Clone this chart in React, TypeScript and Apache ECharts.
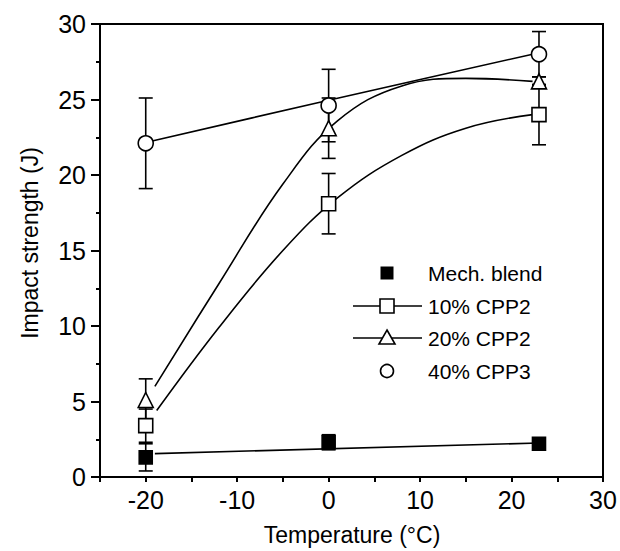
import React, { useEffect, useRef } from "react";
import * as echarts from "echarts";

const temps = [-20, 0, 23];
const mechBlend = [1.3, 2.3, 2.2];
const mechBlendErr = [0.9, 0.5, 0.3];
const cpp10 = [3.4, 18.1, 24.0];
const cpp10Err = [1.1, 2.0, 2.0];
const cpp20 = [5.1, 23.1, 26.2];
const cpp20Err = [1.4, 2.0, 0.3];
const cpp40 = [22.1, 24.6, 28.0];
const cpp40Err = [3.0, 2.4, 1.5];

// fitted curves
const mechFit = [[-19, 1.55], [23, 2.25]];
const cpp10Fit = [[-18.8, 4.4], [-12, 9.9], [-5, 15.0], [1, 18.5], [8, 21.3], [15, 23.1], [22.3, 24.0]];
const cpp20Fit = [[-19, 6.0], [-12, 12.8], [-5, 19.4], [1, 23.6], [8, 25.9], [15, 26.4], [22.3, 26.2]];
const cpp40Fit = [[-19.3, 22.25], [0, 24.95], [22.3, 28.0]];

const xTicks = { min: -25, max: 30, step: 5 };
const yTicks = { min: 0, max: 30, step: 5 };

const legendNames = ["Mech. blend", "10% CPP2", "20% CPP2", "40% CPP3"];

const FONT = "'Liberation Sans', Arial, Helvetica, sans-serif";

function errSeries(vals: number[], errs: number[], z: number) {
  return {
    type: "custom",
    z,
    data: temps.map((t, i) => [t, vals[i], errs[i]]),
    renderItem: (params: any, api: any) => {
      const x = api.value(0);
      const y = api.value(1);
      const e = api.value(2);
      const top = api.coord([x, y + e]);
      const bot = api.coord([x, y - e]);
      const w = 7;
      const st = { stroke: "#000", lineWidth: 1.6 };
      return {
        type: "group",
        children: [
          { type: "line", shape: { x1: top[0], y1: top[1], x2: bot[0], y2: bot[1] }, style: st },
          { type: "line", shape: { x1: top[0] - w, y1: top[1], x2: top[0] + w, y2: top[1] }, style: st },
          { type: "line", shape: { x1: bot[0] - w, y1: bot[1], x2: bot[0] + w, y2: bot[1] }, style: st },
        ],
      };
    },
  };
}

function fitSeries(pts: number[][], smooth: number) {
  return {
    type: "line",
    data: pts,
    smooth,
    symbol: "none",
    z: 3,
    lineStyle: { color: "#000", width: 1.6 },
  };
}

function markSeries(name: string, vals: number[], symbol: string, size: number, filled: boolean) {
  return {
    type: "scatter",
    name,
    z: 5,
    symbol,
    symbolSize: size,
    data: temps.map((t, i) => [t, vals[i]]),
    itemStyle: {
      color: filled ? "#000" : "#fff",
      borderColor: "#000",
      borderWidth: 1.6,
      opacity: 1,
    },
  };
}

export default function App() {
  const ref = useRef<HTMLDivElement>(null);
  useEffect(() => {
    if (!ref.current) return;
    const chart = echarts.init(ref.current, undefined, { renderer: "svg" });
    const lx = 387;
    const ly = [273, 306, 338, 371];
    const tx = 428;
    const lstyle = { stroke: "#000", lineWidth: 1.6 };
    const textStyle = (t: string, y: number) => ({
      type: "text",
      x: tx,
      y,
      style: { text: t, fill: "#000", font: `21px ${FONT}`, verticalAlign: "middle" },
    });
    chart.setOption({
      animation: false,
      backgroundColor: "#fff",
      grid: { left: 100, right: 17, top: 24, bottom: 74, show: true, borderColor: "#000", borderWidth: 2, backgroundColor: "transparent" },
      xAxis: {
        type: "value",
        min: xTicks.min,
        max: xTicks.max,
        interval: xTicks.step,
        axisLine: { onZero: false, lineStyle: { color: "#000", width: 2 } },
        axisTick: { show: true, inside: false, length: 5, lineStyle: { color: "#000", width: 2 } },
        splitLine: { show: false },
        axisLabel: {
          color: "#000",
          fontSize: 25,
          fontFamily: FONT,
          margin: 10,
          formatter: (v: number) => (v % 10 === 0 ? String(v) : ""),
        },
      },
      yAxis: {
        type: "value",
        min: yTicks.min,
        max: yTicks.max,
        interval: yTicks.step,
        axisLine: { onZero: false, lineStyle: { color: "#000", width: 2 } },
        axisTick: { show: true, inside: false, length: 9, lineStyle: { color: "#000", width: 2 } },
        minorTick: { show: true, splitNumber: 2, length: 4, lineStyle: { color: "#000", width: 2 } },
        splitLine: { show: false },
        axisLabel: { color: "#000", fontSize: 25, fontFamily: FONT, margin: 14 },
      },
      graphic: [
        {
          type: "text",
          x: 352,
          y: 535,
          style: { text: "Temperature (°C)", fill: "#000", font: `23px ${FONT}`, align: "center", verticalAlign: "middle" },
        },
        {
          type: "text",
          x: 30,
          y: 243,
          rotation: Math.PI / 2,
          style: { text: "Impact strength (J)", fill: "#000", font: `23px ${FONT}`, align: "center", verticalAlign: "middle" },
        },
        // legend
        { type: "rect", shape: { x: lx - 6.5, y: ly[0] - 6.5, width: 13, height: 13 }, style: { fill: "#000" } },
        textStyle(legendNames[0], ly[0]),
        { type: "line", shape: { x1: 353, y1: ly[1], x2: 422, y2: ly[1] }, style: lstyle },
        { type: "rect", shape: { x: lx - 7, y: ly[1] - 7, width: 14, height: 14 }, style: { fill: "#fff", stroke: "#000", lineWidth: 1.6 } },
        textStyle(legendNames[1], ly[1]),
        { type: "line", shape: { x1: 353, y1: ly[2], x2: 422, y2: ly[2] }, style: lstyle },
        {
          type: "polygon",
          shape: { points: [[lx, ly[2] - 8], [lx + 8, ly[2] + 6], [lx - 8, ly[2] + 6]] },
          style: { fill: "#fff", stroke: "#000", lineWidth: 1.6 },
        },
        textStyle(legendNames[2], ly[2]),
        { type: "circle", shape: { cx: lx, cy: ly[3], r: 6.5 }, style: { fill: "#fff", stroke: "#000", lineWidth: 1.6 } },
        textStyle(legendNames[3], ly[3]),
      ],
      series: [
        fitSeries(mechFit, 0),
        fitSeries(cpp10Fit, 0.4),
        fitSeries(cpp20Fit, 0.4),
        fitSeries(cpp40Fit, 0.3),
        errSeries(mechBlend, mechBlendErr, 4),
        errSeries(cpp10, cpp10Err, 4),
        errSeries(cpp20, cpp20Err, 4),
        errSeries(cpp40, cpp40Err, 4),
        markSeries(legendNames[0], mechBlend, "rect", 13, true),
        markSeries(legendNames[1], cpp10, "rect", 14, false),
        markSeries(legendNames[2], cpp20, "triangle", 15, false),
        markSeries(legendNames[3], cpp40, "circle", 15, false),
      ],
    });
    return () => chart.dispose();
  }, []);
  return <div ref={ref} style={{ position: "absolute", left: 0, top: 0, width: 620, height: 551 }} />;
}
